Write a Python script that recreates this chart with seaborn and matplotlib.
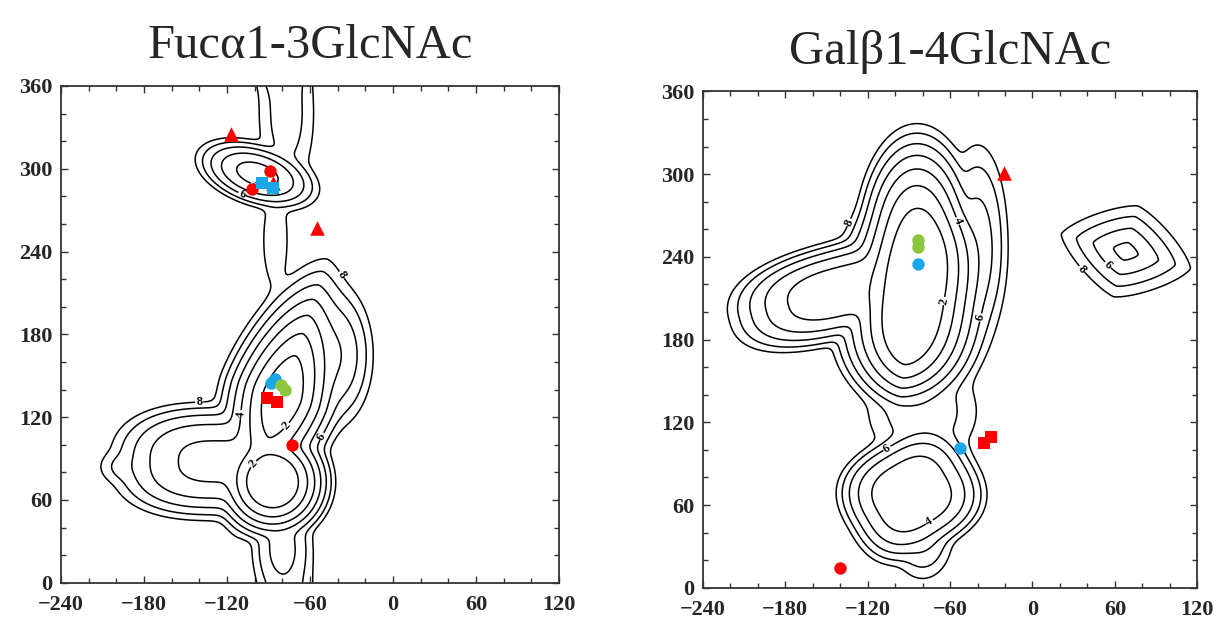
import numpy as np
import matplotlib
matplotlib.use("Agg")
import matplotlib.pyplot as plt
import seaborn as sns

# contour levels of the relative energy (kcal/mol)
levels = [2, 3, 4, 5, 6, 7, 8]
label_levels = [2, 4, 6, 8]

# Fuc a1-3GlcNAc map: wells
# centre phi, centre psi, half widths, tilt (deg), floor energy, steepness
fuc_wx = [-80, -87, -130, -195, -77, -98, -85, -42, -80]
fuc_wy = [135, 73, 88, 84, 340, 296, 248, 165, 25]
fuc_wa = [31, 17, 41, 14, 16, 22, 10, 16, 14]
fuc_wb = [14, 17, 24, 10, 45, 11, 38, 30, 25]
fuc_wang = [72, 30, 0, 0, 0, -18, 0, 0, 0]
fuc_we0 = [1.0, 0.8, 3.7, 6.8, 6.5, 3.5, 7.3, 5.0, 5.6]
fuc_wpa = [1.6, 2, 2.45, 2, 2, 2, 2, 2, 2]
fuc_wpb = [1.6, 2, 2.5, 2, 2, 2, 2, 2, 2]

# Gal b1-4GlcNAc map
gal_wx = [-86, -84, -140, -40, -88, -80, 68, -80]
gal_wy = [212, 250, 215, 250, 68, 35, 244, 128]
gal_wa = [44, 18, 45, 14, 30, 15, 19, 30]
gal_wb = [17, 34, 20, 45, 26, 20, 13.3, 28]
gal_wang = [82, 0, 15, 0, 30, 0, -15, 0]
gal_we0 = [0.5, 1.5, 3.3, 5.5, 3.2, 6.0, 4.6, 6.3]
gal_wpa = [2.9, 2, 2.5, 2, 2.8, 2, 1.3, 2]
gal_wpb = [1.6, 2, 2.5, 2, 2.8, 2, 1.3, 2]

# conformations found (phi, psi)
fuc_pts_x = [-117, -55, -87, -89, -102, -73, -95, -87, -88, -85, -81, -78, -91, -84]
fuc_pts_y = [325, 257, 290, 298, 285, 100, 290, 286, 145, 148, 143, 140, 134, 131]
fuc_pts_kind = ["r^", "r^", "r^", "ro", "ro", "ro", "bs", "bs", "bo", "bo", "go", "go", "rs", "rs"]

gal_pts_x = [-21, -83, -83, -83, -53, -35, -30, -140]
gal_pts_y = [301, 252, 247, 235, 101, 105, 109, 14]
gal_pts_kind = ["r^", "go", "go", "bo", "bo", "rs", "rs", "ro"]

colors = {"r": "#FF0000", "b": "#1AA7E8", "g": "#8CC63F"}
sizes = {"^": 110, "o": 80, "s": 85}


def energy_map(wx, wy, wa, wb, wang, we0, wpa, wpb):
    phi = np.linspace(-240, 120, 361)
    psi = np.linspace(0, 360, 361)
    X, Y = np.meshgrid(phi, psi)
    terms = []
    for cx, cy, a, b, ang, e0, pa, pb in zip(wx, wy, wa, wb, wang, we0, wpa, wpb):
        t = np.deg2rad(ang)
        for shift in (-360, 0, 360):
            dx = X - cx
            dy = Y - cy - shift
            u = dx * np.cos(t) + dy * np.sin(t)
            v = -dx * np.sin(t) + dy * np.cos(t)
            terms.append(e0 + np.abs(u / a) ** pa + np.abs(v / b) ** pb)
    terms = np.array(terms)
    m = terms.min(axis=0)
    T = 0.6
    E = m - T * np.log(np.exp(-(terms - m) / T).sum(axis=0))
    return X, Y, np.minimum(E, 10)


def draw_panel(ax, title, wells, px, py, kinds):
    X, Y, E = energy_map(*wells)
    cs = ax.contour(X, Y, E, levels=levels, colors="black", linewidths=1.1)
    labs = ax.clabel(cs, levels=label_levels, fmt="%d", fontsize=9, inline=True, inline_spacing=1)
    for t in labs:
        t.set_fontweight("bold")
        t.set_family("Liberation Serif")

    for k in ["r^", "ro", "rs", "bs", "bo", "go"]:
        xs = [x for x, kk in zip(px, kinds) if kk == k]
        ys = [y for y, kk in zip(py, kinds) if kk == k]
        if xs:
            sns.scatterplot(x=xs, y=ys, ax=ax, color=colors[k[0]], marker=k[1],
                            s=sizes[k[1]], linewidth=0, zorder=5)

    ax.set_xlim(-240, 120)
    ax.set_ylim(0, 360)
    ax.set_xticks(range(-240, 121, 60))
    ax.set_yticks(range(0, 361, 60))
    ax.set_xticks(range(-240, 121, 20), minor=True)
    ax.set_yticks(range(0, 361, 20), minor=True)
    ax.tick_params(which="both", direction="in", top=True, right=True, width=1.0, color="#333333")
    ax.tick_params(which="major", length=5, labelsize=16)
    ax.tick_params(axis="x", which="major", pad=9)
    ax.tick_params(axis="y", which="major", pad=6)
    ax.tick_params(which="minor", length=3.5)
    for lab in ax.get_xticklabels() + ax.get_yticklabels():
        lab.set_fontweight("bold")
    for sp in ax.spines.values():
        sp.set_linewidth(1.3)
        sp.set_color("#333333")
    ax.set_title(title, fontsize=35, pad=20)


sns.set_theme(style="ticks")
plt.rcParams["font.family"] = ["Liberation Serif", "DejaVu Serif"]

fig = plt.figure(figsize=(12.18, 6.18), dpi=100)
ax1 = fig.add_axes([0.050, 0.057, 0.409, 0.804])
ax2 = fig.add_axes([0.577, 0.049, 0.406, 0.803])

draw_panel(ax1, "Fucα1-3GlcNAc",
           (fuc_wx, fuc_wy, fuc_wa, fuc_wb, fuc_wang, fuc_we0, fuc_wpa, fuc_wpb),
           fuc_pts_x, fuc_pts_y, fuc_pts_kind)
draw_panel(ax2, "Galβ1-4GlcNAc",
           (gal_wx, gal_wy, gal_wa, gal_wb, gal_wang, gal_we0, gal_wpa, gal_wpb),
           gal_pts_x, gal_pts_y, gal_pts_kind)

fig.savefig("out.png", dpi=100)
